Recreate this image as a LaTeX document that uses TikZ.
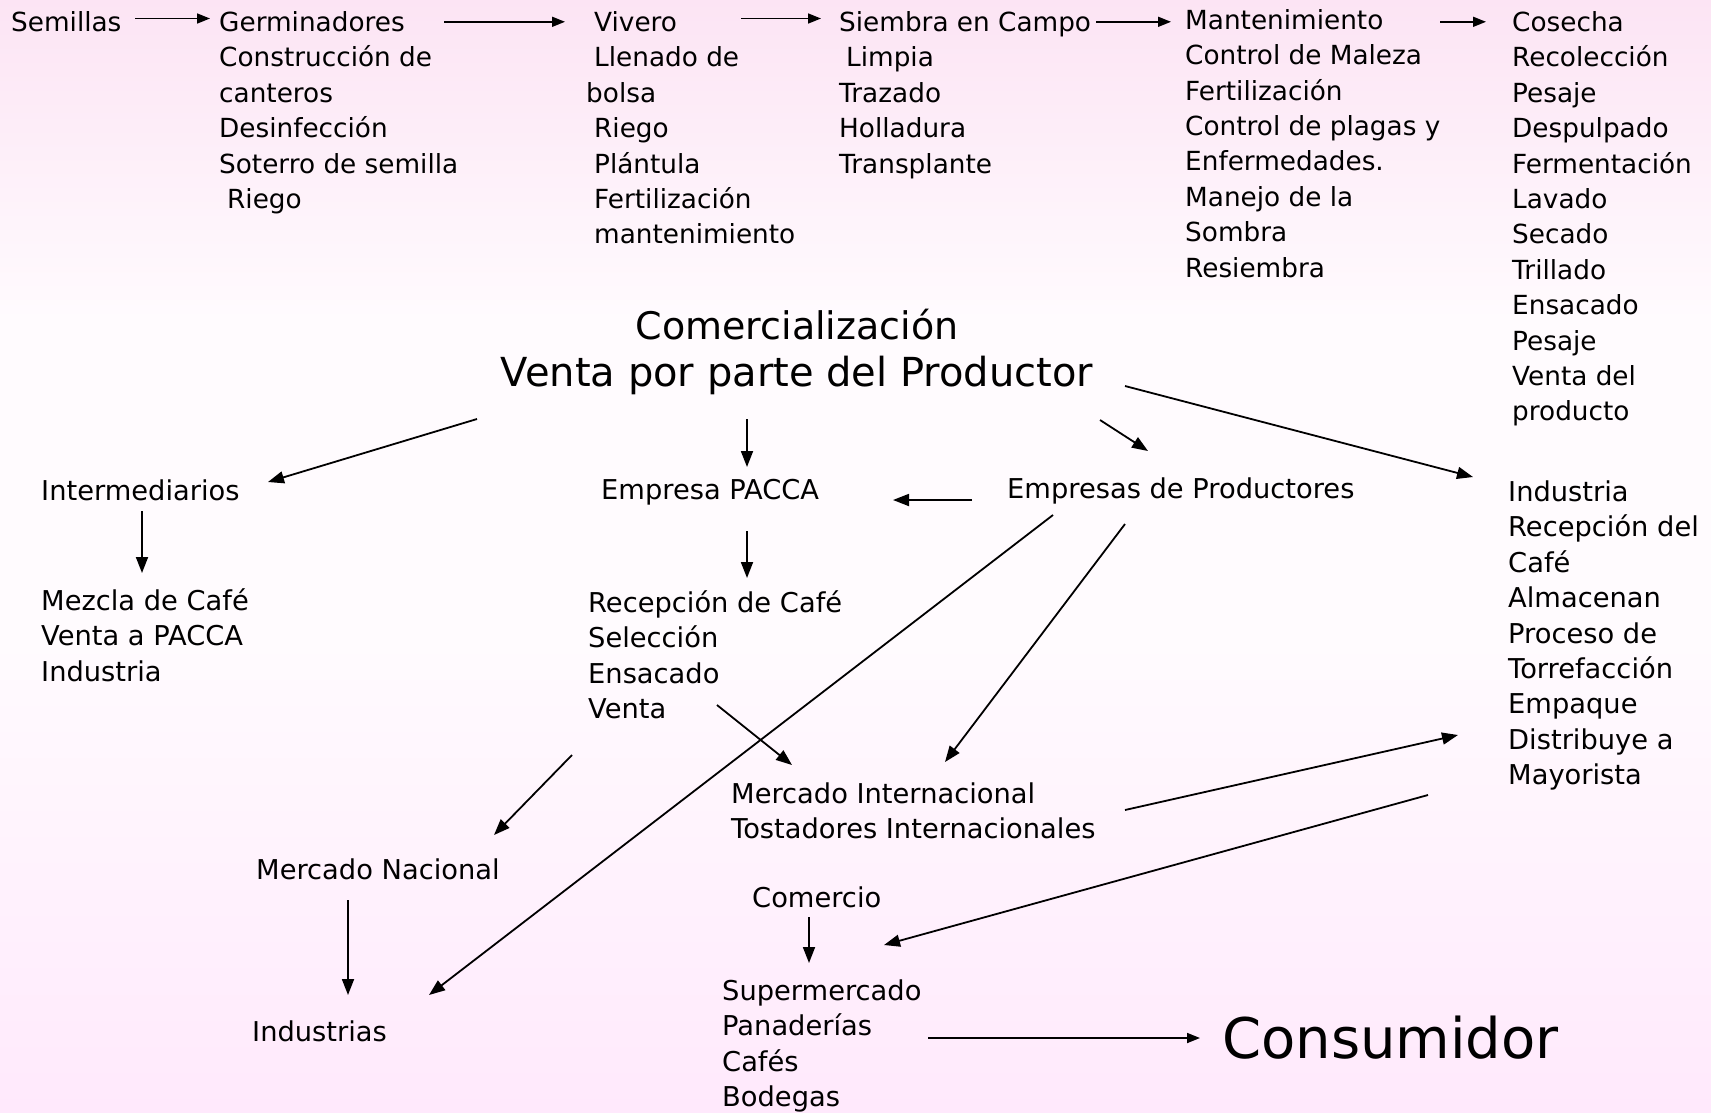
\documentclass[tikz,border=0pt]{standalone}
\usepackage{fontspec}
\setmainfont{DejaVu Sans}
\usetikzlibrary{arrows.meta}
\definecolor{bgtop}{RGB}{252,228,244}
\definecolor{bgmid}{RGB}{255,251,254}
\definecolor{bgbot}{RGB}{255,233,252}
\newcommand\fnT{\fontsize{26.3}{35.4}\selectfont}
\newcommand\fnM{\fontsize{27.3}{35.4}\selectfont}
\begin{document}
\begin{tikzpicture}[x=1pt,y=-1pt,
  blk/.style={anchor=north west, inner sep=0pt, align=left, font=\fnM, execute at begin node=\strut},
  tblk/.style={blk, font=\fnT},
  arr/.style={-{Triangle[length=16pt,width=12pt]}, line width=1.8pt},
  sarr/.style={-{Triangle[length=13pt,width=10pt]}, line width=1.7pt}]
\fill[bgmid] (0,0) rectangle (1711,1112);
\shade[top color=bgtop, bottom color=bgmid] (0,0) rectangle (1711,320);
\shade[top color=bgmid, bottom color=bgbot] (0,640) rectangle (1711,1112);
\useasboundingbox (0,0) rectangle (1711,1112);

% top row
\node[tblk] (semillas) at (11,6.3) {Semillas};
\node[tblk] (germ) at (219,11.3) {Germinadores\\Construcción de\\canteros\\Desinfección\\Soterro de semilla\\\hspace*{8pt}Riego};
\node[tblk] (vivero) at (586,11.3) {\hspace*{8pt}Vivero\\\hspace*{8pt}Llenado de\\bolsa\\\hspace*{8pt}Riego\\\hspace*{8pt}Plántula\\\hspace*{8pt}Fertilización\\\hspace*{8pt}mantenimiento};
\node[tblk] (siembra) at (839,11.3) {Siembra en Campo\\\hspace*{7pt}Limpia\\Trazado\\Holladura\\Transplante};
\node[tblk] (mant) at (1185,9.1) {Mantenimiento\\Control de Maleza\\Fertilización\\Control de plagas y\\Enfermedades.\\Manejo de la\\Sombra\\Resiembra};
\node[tblk] (cosecha) at (1512,11.3) {Cosecha\\Recolección\\Pesaje\\Despulpado\\Fermentación\\Lavado\\Secado\\Trillado\\Ensacado\\Pesaje\\Venta del\\producto};

% title
\node[anchor=north, inner sep=0pt, align=center] (title) at (797,303)
  {\fontsize{38}{52}\selectfont\strut Comercialización\\\fontsize{40}{52}\selectfont Venta por parte del Productor};

% middle
\node[blk] (inter) at (41,476) {Intermediarios};
\node[blk] (mezcla) at (41,588.5) {Mezcla de Café\\Venta a PACCA\\Industria};
\node[blk] (pacca) at (601,475) {Empresa PACCA};
\node[blk] (recep) at (588,590.5) {Recepción de Café\\Selección\\Ensacado\\Venta};
\node[blk] (emprod) at (1007,474) {Empresas de Productores};
\node[blk] (industria) at (1508,480.5) {Industria\\Recepción del\\Café\\Almacenan\\Proceso de\\Torrefacción\\Empaque\\Distribuye a\\Mayorista};
\node[blk] (mi) at (731,782.5) {Mercado Internacional\\Tostadores Internacionales};
\node[blk] (mn) at (256,855) {Mercado Nacional};
\node[blk] (inds) at (252,1017) {Industrias};
\node[blk] (comercio) at (752,883) {Comercio};
\node[blk] (super) at (722,979.5) {Supermercado\\Panaderías\\Cafés\\Bodegas};
\node[anchor=west, inner sep=0pt, font=\fontsize{56}{60}\selectfont] (consum) at (1222,1038) {Consumidor};

% connector end points
\coordinate (a1s) at (135,18.5);  \coordinate (a1e) at (210,18.5);
\coordinate (a2s) at (444,21.8);  \coordinate (a2e) at (565,21.8);
\coordinate (a3s) at (741,18.5);  \coordinate (a3e) at (821,18.5);
\coordinate (a4s) at (1096,21.8); \coordinate (a4e) at (1171,21.8);
\coordinate (a5s) at (1440,21.8); \coordinate (a5e) at (1486,21.8);

\coordinate (b1s) at (477,419);   \coordinate (b1e) at (268,482);
\coordinate (b2s) at (747,419);   \coordinate (b2e) at (747,467);
\coordinate (b3s) at (1100,420);  \coordinate (b3e) at (1148,451);
\coordinate (b4s) at (1125,386);  \coordinate (b4e) at (1473,477);
\coordinate (b5s) at (972,500);   \coordinate (b5e) at (893,500);
\coordinate (b6s) at (142,511);   \coordinate (b6e) at (142,573);
\coordinate (b7s) at (747,531);   \coordinate (b7e) at (747,578);
\coordinate (b8s) at (1053,515);  \coordinate (b8e) at (429,995);
\coordinate (b9s) at (1125,524);  \coordinate (b9e) at (945,762);
\coordinate (b10s) at (717,705);  \coordinate (b10e) at (792,765);
\coordinate (b11s) at (572,755);  \coordinate (b11e) at (494,835);
\coordinate (b12s) at (1125,810); \coordinate (b12e) at (1458,735);
\coordinate (b13s) at (1428,795); \coordinate (b13e) at (884,945);
\coordinate (b14s) at (348,900);  \coordinate (b14e) at (348,995);
\coordinate (b15s) at (809,917);  \coordinate (b15e) at (809,963);
\coordinate (b16s) at (928,1038); \coordinate (b16e) at (1200,1038);

\draw[sarr] (a1s) -- (a1e);
\draw[sarr] (a2s) -- (a2e);
\draw[sarr] (a3s) -- (a3e);
\draw[sarr] (a4s) -- (a4e);
\draw[sarr] (a5s) -- (a5e);

\draw[arr] (b1s) -- (b1e);
\draw[arr] (b2s) -- (b2e);
\draw[arr] (b3s) -- (b3e);
\draw[arr] (b4s) -- (b4e);
\draw[arr] (b5s) -- (b5e);
\draw[arr] (b6s) -- (b6e);
\draw[arr] (b7s) -- (b7e);
\draw[arr] (b8s) -- (b8e);
\draw[arr] (b9s) -- (b9e);
\draw[arr] (b10s) -- (b10e);
\draw[arr] (b11s) -- (b11e);
\draw[arr] (b12s) -- (b12e);
\draw[arr] (b13s) -- (b13e);
\draw[arr] (b14s) -- (b14e);
\draw[arr] (b15s) -- (b15e);
\draw[sarr] (b16s) -- (b16e);
\end{tikzpicture}
\end{document}
